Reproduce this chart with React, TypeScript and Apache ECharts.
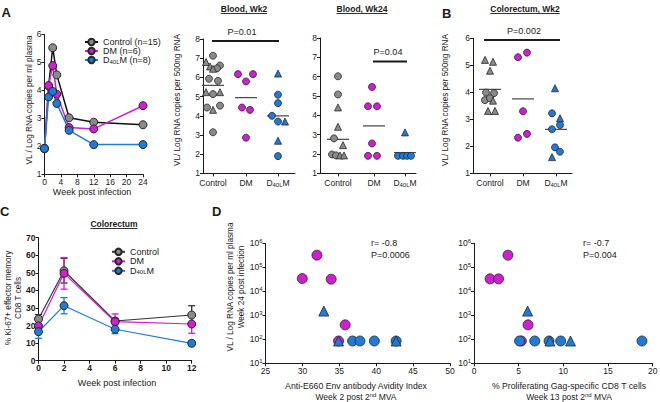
import React, { useEffect, useRef } from 'react';
import * as echarts from 'echarts';

const FONT = '"Liberation Sans", Arial, Helvetica, sans-serif';
const INK = '#1a1a1a';
const GRAY = '#8a8a8a';
const MAG = '#d01ed0';
const BLUE = '#1f7bd6';
const EDGE = '#262626';
const MEAN = '#4d4d4d';

// ---------- Panel A : plasma VL over time ----------
const weeksA = [0, 1, 2, 3, 6, 12, 24];
const controlA = [1.92, 4.15, 5.52, 4.55, 3.02, 2.86, 2.77];
const dmA = [1.92, 4.17, 4.88, 3.86, 2.67, 2.62, 3.45];
const d40A = [1.92, 3.76, 3.96, 3.53, 2.57, 2.06, 2.06];
const namesA = ['Control (n=15)', 'DM (n=6)', 'D40LM (n=8)'];

// ---------- dot plots: [jitter (px), log VL] ----------
const groupNames = ['Control', 'DM', 'D40LM'];

const wk2CtrlCirc = [[0, 7.13], [7, 6.62], [4, 6.47], [-4, 5.93], [5, 5.82], [0, 5.13], [-6, 4.43], [7, 4.53], [0, 3.14]];
const wk2CtrlTri = [[-7, 6.8], [-3, 6.57], [0, 6.45], [-7, 5.23], [7, 5.23], [0, 4.31]];
const wk2DmCirc = [[-8, 6.17], [7, 6.17], [0, 5.79], [-4, 4.43], [4, 4.31], [0, 2.86]];
const wk2D40Circ = [[0, 5.1], [0, 4.66], [-6, 4.0], [0, 3.7], [0, 1.9]];
const wk2D40Tri = [[0, 6.2], [7, 3.7], [0, 2.7]];
const wk2Means = [5.58, 4.95, 4.0];

const wk24CtrlCirc = [[0, 6.02], [0, 5.08], [-4, 2.81], [-6, 1.98], [-2, 1.93]];
const wk24CtrlTri = [[0, 4.41], [0, 3.41], [5, 2.46], [2, 1.93], [6, 1.93]];
const wk24DmCirc = [[-2, 5.47], [-6, 4.47], [3, 4.47], [-2, 2.55], [-6, 1.91], [3, 1.91]];
const wk24D40Circ = [[-7, 1.91], [-2, 1.91], [2, 1.91], [6, 1.91]];
const wk24D40Tri = [[0, 3.12]];
const wk24Means = [2.76, 3.46, 2.07];

const crCtrlCirc = [[-4, 3.99], [4, 3.97], [-5, 3.71], [0, 3.78]];
const crCtrlTri = [[-5, 5.2], [3, 5.13], [0, 4.8], [3, 3.69], [-2, 3.31], [5, 3.31]];
const crDmCirc = [[-5, 5.3], [4, 5.47], [0, 3.3], [-5, 2.32], [4, 2.46]];
const crD40Circ = [[-4, 3.22], [4, 2.79], [-4, 2.63], [-1, 1.96], [4, 1.8]];
const crD40Tri = [[-1, 4.15], [4, 3.04], [-4, 1.6]];
const crMeans = [4.11, 3.76, 2.63];

// ---------- Panel C : % Ki-67+ ----------
const weeksC = [0, 2, 6, 12];
const namesC = ['Control', 'DM', 'D40LM'];
const controlC = [23.7, 51.2, 22.6, 26.0];
const controlSemC = [2.5, 7, 1.5, 5.3];
const dmC = [19.8, 49.7, 22.2, 20.9];
const dmSemC = [3, 9, 4.4, 5.3];
const d40C = [16.5, 31.3, 17.9, 9.9];
const d40SemC = [3.8, 4.6, 2.5, 1.5];

// ---------- Panel D : correlations [x, VL copies] ----------
const avDmCirc = [[31.97, 3.2e5], [29.98, 3.4e4], [33.9, 3.2e4], [35.8, 400], [34.9, 85]];
const avD40Circ = [[36.8, 85], [37.8, 85], [39.75, 85], [42.7, 85]];
const avD40Tri = [[32.9, 1500], [34.9, 85], [42.7, 85]];
const prDmCirc = [[3.8, 3.2e5], [1.8, 3.3e4], [2.75, 3.3e4], [6.05, 400], [5.3, 85]];
const prD40Circ = [[5.1, 85], [6.8, 85], [8.4, 85], [9.7, 85], [18.8, 85]];
const prD40Tri = [[6.0, 1500], [8.5, 85], [10.8, 85]];

// ---------- layout ----------
const L = {
  A: { left: 44.5, top: 34.3, width: 98.5, height: 140 },
  W2: { left: 203, top: 39, width: 92, height: 134.4 },
  W24: { left: 320, top: 38, width: 96, height: 135.4 },
  B: { left: 473, top: 38.3, width: 99, height: 135 },
  C: { left: 38.5, top: 237.7, width: 153.2, height: 123 },
  DL: { left: 265.5, top: 243.3, width: 184.5, height: 120 },
  DR: { left: 474, top: 243.3, width: 178.7, height: 120 },
};
const CEN_W2 = [10, 43, 75];
const CEN_W24 = [18, 54, 85];
const CEN_B = [17, 50, 83];

const rich = {
  n: { fontSize: 8.5, fontFamily: FONT, color: INK, lineHeight: 10 },
  s: { fontSize: 6, fontFamily: FONT, color: INK, lineHeight: 5, verticalAlign: 'bottom' },
  sup: { fontSize: 6, fontFamily: FONT, color: INK, lineHeight: 5, verticalAlign: 'top' },
};
const richLeg = {
  n: { fontSize: 9, fontFamily: FONT, color: INK, lineHeight: 9 },
  s: { fontSize: 6, fontFamily: FONT, color: INK, lineHeight: 4, verticalAlign: 'bottom' },
};

function catLabel(centers: number[], v: number) {
  const i = centers.findIndex((c) => Math.abs(c - v) < 0.01);
  const name = groupNames[i] || '';
  if (name === 'D40LM') return '{n|D}{s|40L}{n|M}';
  return '{n|' + name + '}';
}

function legendFmt(name: string) {
  if (name.startsWith('D40LM')) return '{n|D}{s|40L}{n|M' + name.slice(5) + '}';
  return '{n|' + name + '}';
}

const axLine = { show: true, onZero: false, lineStyle: { color: INK, width: 1 } };
const axTick = { show: true, length: 3, lineStyle: { color: INK, width: 1 } };
const axLab = { color: INK, fontFamily: FONT, fontSize: 8.5, margin: 3 };

function valAxis(gi: number, min: number, max: number, interval: number, bold = false) {
  return {
    type: 'value', gridIndex: gi, min, max, interval,
    axisLine: axLine, axisTick: axTick,
    axisLabel: { ...axLab, fontWeight: bold ? 'bold' : 'normal' },
    splitLine: { show: false },
  };
}
function catAxis(gi: number, len: number, centers: number[]) {
  return {
    type: 'value', gridIndex: gi, min: 0, max: len,
    axisLine: axLine,
    axisTick: { ...axTick, customValues: centers },
    axisLabel: { ...axLab, margin: 5, customValues: centers, formatter: (v: number) => catLabel(centers, v), rich },
    splitLine: { show: false },
  };
}
function logAxis(gi: number) {
  return {
    type: 'log', gridIndex: gi, min: 10, max: 1e6, logBase: 10,
    axisLine: axLine, axisTick: axTick,
    axisLabel: { ...axLab, formatter: (v: number) => '{n|10}{sup|' + Math.round(Math.log10(v)) + '}', rich },
    splitLine: { show: false }, minorTick: { show: false },
  };
}

function dots(ai: number, centers: number[] | null, gi: number, pts: number[][], symbol: string, color: string, size = 7) {
  return {
    type: 'scatter', xAxisIndex: ai, yAxisIndex: ai, symbol, symbolSize: size, silent: true, z: 3,
    itemStyle: { color, borderColor: EDGE, borderWidth: 0.8, opacity: 1 },
    data: pts.map(([x, v]) => [centers ? centers[gi] + x : x, v]),
  };
}
function meanLine(ai: number, centers: number[], gi: number, m: number) {
  return {
    type: 'line', xAxisIndex: ai, yAxisIndex: ai, symbol: 'none', silent: true, z: 2,
    lineStyle: { color: MEAN, width: 1.2 },
    data: [[centers[gi] - 11, m], [centers[gi] + 11, m]],
  };
}
function sigBar(ai: number, x1: number, x2: number, y: number) {
  return {
    type: 'line', xAxisIndex: ai, yAxisIndex: ai, symbol: 'none', silent: true,
    lineStyle: { color: INK, width: 2 }, data: [[x1, y], [x2, y]],
  };
}
function lineSeries(ai: number, name: string, xs: number[], ys: number[], lineColor: string, fill: string, width: number) {
  return {
    type: 'line', name, xAxisIndex: ai, yAxisIndex: ai, silent: true, z: 3,
    data: xs.map((x, i) => [x, ys[i]]),
    symbol: 'circle', symbolSize: 8, showSymbol: true,
    lineStyle: { color: lineColor, width },
    itemStyle: { color: fill, borderColor: EDGE, borderWidth: 1 },
  };
}
function errBars(ai: number, xs: number[], ys: number[], sem: number[], color: string) {
  return {
    type: 'custom', xAxisIndex: ai, yAxisIndex: ai, silent: true, z: 2,
    data: xs.map((x, i) => [x, ys[i] - sem[i], ys[i] + sem[i]]),
    encode: { x: 0, y: [1, 2] },
    renderItem: (_p: any, api: any) => {
      const x = api.value(0);
      const top = api.coord([x, api.value(2)]);
      const bot = api.coord([x, api.value(1)]);
      const w = 3.5;
      const st = { stroke: color, lineWidth: 1.3 };
      return {
        type: 'group',
        children: [
          { type: 'line', shape: { x1: top[0], y1: top[1], x2: bot[0], y2: bot[1] }, style: st },
          { type: 'line', shape: { x1: top[0] - w, y1: top[1], x2: top[0] + w, y2: top[1] }, style: st },
          { type: 'line', shape: { x1: bot[0] - w, y1: bot[1], x2: bot[0] + w, y2: bot[1] }, style: st },
        ],
      };
    },
  };
}

function measure(text: string, font: string) {
  const ctx = document.createElement('canvas').getContext('2d');
  if (!ctx) return text.length * 4.5;
  ctx.font = font;
  return ctx.measureText(text).width;
}

function txt(text: string, x: number, y: number, o: any = {}) {
  return {
    type: 'text', x, y, rotation: o.rot || 0, silent: true, z: 10,
    style: {
      text, fill: INK, fontFamily: FONT, fontSize: o.size || 9,
      fontWeight: o.bold ? 'bold' : 'normal',
      align: o.align || 'center', verticalAlign: 'middle',
      textAlign: o.align || 'center', textVerticalAlign: 'middle',
      rich: o.rich,
    },
  };
}
function title(text: string, cx: number, cy: number) {
  const w = measure(text, 'bold 8.5px "Liberation Sans"');
  return [
    txt(text, cx, cy, { bold: true, size: 8.5 }),
    { type: 'line', silent: true, shape: { x1: cx - w / 2, y1: cy + 5, x2: cx + w / 2, y2: cy + 5 }, style: { stroke: INK, lineWidth: 0.9 } },
  ];
}

const richTxt = {
  n: { fontSize: 8.5, fontFamily: FONT, fill: INK, color: INK, lineHeight: 10 },
  sup: { fontSize: 6, fontFamily: FONT, fill: INK, color: INK, lineHeight: 5, verticalAlign: 'top' },
};

function buildOption() {
  const gridList = [L.A, L.W2, L.W24, L.B, L.C, L.DL, L.DR].map((g) => ({
    ...g, containLabel: false, outerBoundsMode: 'none', show: false,
  }));

  const xAxis = [
    valAxis(0, 0, 24, 4),
    catAxis(1, 92, CEN_W2),
    catAxis(2, 96, CEN_W24),
    catAxis(3, 99, CEN_B),
    valAxis(4, 0, 12, 2, true),
    valAxis(5, 25, 50, 5),
    valAxis(6, 0, 20, 5),
  ];
  const yAxis = [
    valAxis(0, 1, 6, 1),
    valAxis(1, 1, 8, 1),
    valAxis(2, 1, 8, 1),
    valAxis(3, 1, 6, 1),
    valAxis(4, 0, 70, 10, true),
    logAxis(5),
    logAxis(6),
  ];

  const series: any[] = [
    // A
    lineSeries(0, namesA[0], weeksA, controlA, '#111111', GRAY, 1.5),
    lineSeries(0, namesA[1], weeksA, dmA, MAG, MAG, 1.5),
    lineSeries(0, namesA[2], weeksA, d40A, BLUE, BLUE, 1.5),
    // Blood Wk2
    meanLine(1, CEN_W2, 0, wk2Means[0]),
    meanLine(1, CEN_W2, 1, wk2Means[1]),
    meanLine(1, CEN_W2, 2, wk2Means[2]),
    dots(1, CEN_W2, 0, wk2CtrlCirc, 'circle', GRAY),
    dots(1, CEN_W2, 0, wk2CtrlTri, 'triangle', GRAY),
    dots(1, CEN_W2, 1, wk2DmCirc, 'circle', MAG),
    dots(1, CEN_W2, 2, wk2D40Circ, 'circle', BLUE),
    dots(1, CEN_W2, 2, wk2D40Tri, 'triangle', BLUE),
    sigBar(1, CEN_W2[0] - 1, CEN_W2[2] + 1, 7.9),
    // Blood Wk24
    meanLine(2, CEN_W24, 0, wk24Means[0]),
    meanLine(2, CEN_W24, 1, wk24Means[1]),
    meanLine(2, CEN_W24, 2, wk24Means[2]),
    dots(2, CEN_W24, 0, wk24CtrlCirc, 'circle', GRAY),
    dots(2, CEN_W24, 0, wk24CtrlTri, 'triangle', GRAY),
    dots(2, CEN_W24, 1, wk24DmCirc, 'circle', MAG),
    dots(2, CEN_W24, 2, wk24D40Circ, 'circle', BLUE),
    dots(2, CEN_W24, 2, wk24D40Tri, 'triangle', BLUE),
    sigBar(2, CEN_W24[1] - 1, CEN_W24[2] + 2, 6.79),
    // Colorectum Wk2
    meanLine(3, CEN_B, 0, crMeans[0]),
    meanLine(3, CEN_B, 1, crMeans[1]),
    meanLine(3, CEN_B, 2, crMeans[2]),
    dots(3, CEN_B, 0, crCtrlCirc, 'circle', GRAY),
    dots(3, CEN_B, 0, crCtrlTri, 'triangle', GRAY),
    dots(3, CEN_B, 1, crDmCirc, 'circle', MAG),
    dots(3, CEN_B, 2, crD40Circ, 'circle', BLUE),
    dots(3, CEN_B, 2, crD40Tri, 'triangle', BLUE),
    sigBar(3, CEN_B[0] - 6, CEN_B[2] + 4, 5.94),
    // C
    errBars(4, weeksC, controlC, controlSemC, '#333333'),
    errBars(4, weeksC, dmC, dmSemC, MAG),
    errBars(4, weeksC, d40C, d40SemC, BLUE),
    lineSeries(4, namesC[0], weeksC, controlC, '#333333', GRAY, 1.2),
    lineSeries(4, namesC[1], weeksC, dmC, MAG, MAG, 1.2),
    lineSeries(4, namesC[2], weeksC, d40C, BLUE, BLUE, 1.2),
    // D
    dots(5, null, 0, avDmCirc, 'circle', MAG, 10),
    dots(5, null, 0, avD40Circ, 'circle', BLUE, 10),
    dots(5, null, 0, avD40Tri, 'triangle', BLUE, 10),
    dots(6, null, 0, prDmCirc, 'circle', MAG, 10),
    dots(6, null, 0, prD40Circ, 'circle', BLUE, 10),
    dots(6, null, 0, prD40Tri, 'triangle', BLUE, 10),
  ];

  const legendBase = {
    orient: 'vertical', selectedMode: false, itemWidth: 13, itemHeight: 8, padding: 0,
    formatter: legendFmt,
    textStyle: { fontFamily: FONT, fontSize: 9, color: INK, rich: richLeg },
  };
  const legend = [
    { ...legendBase, left: 84, top: 37.5, itemGap: 0, data: namesA },
    { ...legendBase, left: 111, top: 247.3, itemGap: 0.5, data: namesC },
  ];

  const rot = Math.PI / 2;
  const graphic = [
    // panel letters
    txt('A', 1.5, 12.5, { bold: true, size: 13, align: 'left' }),
    txt('B', 442, 13, { bold: true, size: 13, align: 'left' }),
    txt('C', 0, 211.5, { bold: true, size: 13, align: 'left' }),
    txt('D', 212, 211.5, { bold: true, size: 13, align: 'left' }),
    // titles
    ...title('Blood, Wk2', 244, 8.5),
    ...title('Blood, Wk24', 362, 8.5),
    ...title('Colorectum, Wk2', 525, 8.5),
    ...title('Colorectum', 114, 223.5),
    // p-values
    txt('P=0.01', 242, 32),
    txt('P=0.04', 388, 52),
    txt('P=0.002', 524, 31),
    // axis titles
    txt('VL / Log RNA copies per ml plasma', 29, 100, { rot, size: 8.2 }),
    txt('Week post infection', 92, 192),
    txt('VL/ Log RNA copies per 500ng RNA', 177, 100, { rot, size: 8.2 }),
    txt('VL/ Log RNA copies per 500ng RNA', 445.5, 100, { rot, size: 8.2 }),
    txt('% Ki-67+ effector memory', 8.5, 298, { rot, size: 8.2 }),
    txt('CD8 T cells', 18.5, 298, { rot, size: 8.2 }),
    txt('Week post infection', 117, 383),
    txt('VL / Log RNA copies per ml plasma', 230.5, 287, { rot, size: 8.2 }),
    txt('Week 24 post infection', 241.5, 287, { rot, size: 8.2 }),
    txt('Anti-E660 Env antibody Avidity Index', 356, 386, { size: 8.7 }),
    txt('{n|Week 2 post 2}{sup|nd}{n| MVA}', 356, 397, { rich: richTxt, size: 8.7 }),
    txt('% Proliferating Gag-specific CD8 T cells', 569, 386, { size: 8.7 }),
    txt('{n|Week 13 post 2}{sup|nd}{n| MVA}', 569, 397, { rich: richTxt, size: 8.7 }),
    // correlation stats
    txt('r= -0.8', 371, 243, { align: 'left' }),
    txt('P=0.0006', 371, 255, { align: 'left' }),
    txt('r= -0.7', 583, 243, { align: 'left' }),
    txt('P=0.004', 583, 255, { align: 'left' }),
  ];

  return {
    animation: false,
    backgroundColor: '#ffffff',
    textStyle: { fontFamily: FONT },
    grid: gridList,
    xAxis,
    yAxis,
    legend,
    series,
    graphic,
  };
}

export default function App() {
  const ref = useRef<HTMLDivElement>(null);
  useEffect(() => {
    if (!ref.current) return;
    const chart = echarts.init(ref.current, null, { renderer: 'svg', width: 660, height: 402 });
    chart.setOption(buildOption() as any);
    return () => chart.dispose();
  }, []);
  return (
    <div
      ref={ref}
      style={{ position: 'fixed', left: 0, top: 0, width: 660, height: 402, background: '#fff' }}
    />
  );
}
